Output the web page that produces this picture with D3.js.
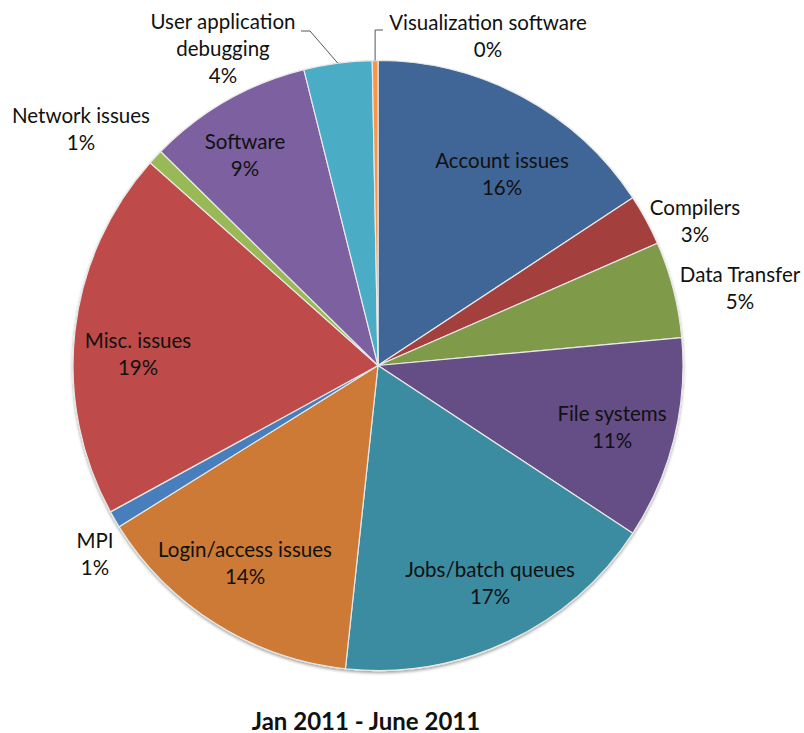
<!DOCTYPE html>
<html>
<head>
<meta charset="utf-8">
<script src="https://cdn.jsdelivr.net/npm/d3@7"></script>
<style>
  html, body { margin: 0; padding: 0; background: #fff; }
  svg { display: block; }
  text { font-family: Lato, "Open Sans", sans-serif; fill: #111; }
</style>
</head>
<body>
<svg id="chart" width="804" height="733"></svg>
<script>
// ---- data ----
const categories = ["Account issues", "Compilers", "Data Transfer", "File systems",
  "Jobs/batch queues", "Login/access issues", "MPI", "Misc. issues",
  "Network issues", "Software", "User application debugging", "Visualization software"];
const values = [15.7, 2.7, 5.1, 10.7, 17.4, 14.4, 0.9, 19.5, 0.8, 8.7, 3.6, 0.3];
const percentLabels = ["16%", "3%", "5%", "11%", "17%", "14%", "1%", "19%", "1%", "9%", "4%", "0%"];
const colors = ["#3F6698", "#A33F3D", "#7F9A4A", "#654E85", "#3A8BA1", "#CC7A36",
  "#4A7EBD", "#BE4B48", "#98B954", "#7D60A0", "#4BACC6", "#F79646"];
const title = "Jan 2011 - June 2011";

// ---- layout ----
const svg = d3.select("#chart");
const cx = 378, cy = 365.5, R = 305;
const g = svg.append("g").attr("transform", `translate(${cx},${cy})`);

const data = categories.map((c, i) => ({ name: c, value: values[i], pct: percentLabels[i], color: colors[i] }));
const pie = d3.pie().value(d => d.value).sort(null).startAngle(0).endAngle(2 * Math.PI);
const arcs = pie(data);
const arc = d3.arc().innerRadius(0).outerRadius(R);

// soft shadow
const defs = svg.append("defs");
const f = defs.append("filter").attr("id", "sh").attr("x", "-10%").attr("y", "-10%").attr("width", "120%").attr("height", "120%");
f.append("feGaussianBlur").attr("in", "SourceAlpha").attr("stdDeviation", 1.5);
f.append("feOffset").attr("dx", 0).attr("dy", 1.5).attr("result", "ob");
f.append("feComponentTransfer").append("feFuncA").attr("type", "linear").attr("slope", 0.35);
const fm = f.append("feMerge"); fm.append("feMergeNode"); fm.append("feMergeNode").attr("in", "SourceGraphic");

g.append("g").attr("filter", "url(#sh)")
  .selectAll("path").data(arcs).join("path")
  .attr("d", arc)
  .attr("fill", d => d.data.color)
  .attr("stroke", "#e8e8e8")
  .attr("stroke-width", 1.2)
  .attr("stroke-linejoin", "round");

const fs = 20.5, lh = 27;
function mid(d) { return (d.startAngle + d.endAngle) / 2; }
function polar(a, r) { return [Math.sin(a) * r, -Math.cos(a) * r]; }

// label block centres (page coordinates) as placed by the original chart's label layout
const labelLayout = {
  "Account issues": { lines: ["Account issues"], x: 502, y: 173 },
  "Compilers": { lines: ["Compilers"], x: 695, y: 220 },
  "Data Transfer": { lines: ["Data Transfer"], x: 740, y: 287 },
  "File systems": { lines: ["File systems"], x: 612, y: 426 },
  "Jobs/batch queues": { lines: ["Jobs/batch queues"], x: 490, y: 582 },
  "Login/access issues": { lines: ["Login/access issues"], x: 245, y: 562 },
  "MPI": { lines: ["MPI"], x: 95, y: 553 },
  "Misc. issues": { lines: ["Misc. issues"], x: 138, y: 353 },
  "Network issues": { lines: ["Network issues"], x: 81, y: 128 },
  "Software": { lines: ["Software"], x: 245, y: 154 },
  "User application debugging": { lines: ["User application", "debugging"], x: 223, y: 48 },
  "Visualization software": { lines: ["Visualization software"], x: 488, y: 35 }
};

const labels = svg.append("g");
arcs.forEach(d => {
  const p = labelLayout[d.data.name];
  const lines = p.lines.concat([d.data.pct]);
  const y0 = p.y - (lines.length - 1) * lh / 2;
  const t = labels.append("text")
    .attr("text-anchor", "middle")
    .attr("font-size", fs)
    .attr("dominant-baseline", "central");
  lines.forEach((ln, i) => {
    t.append("tspan").attr("x", p.x).attr("y", y0 + i * lh).text(ln);
  });
});

// leader lines
const leaderG = g.append("g").attr("fill", "none").attr("stroke", "#555").attr("stroke-width", 1);
arcs.forEach(d => {
  if (d.data.name === "User application debugging") {
    const p = polar(mid(d), R);
    leaderG.append("polyline").attr("points", [p, [310 - cx, 31 - cy], [301 - cx, 31 - cy]].map(q => q.join(",")).join(" "));
  }
  if (d.data.name === "Visualization software") {
    const p = polar(mid(d), R);
    leaderG.append("polyline").attr("points", [p, [p[0], 30 - cy], [383 - cx, 30 - cy]].map(q => q.join(",")).join(" "));
  }
});

// title
svg.append("text")
  .attr("x", 366).attr("y", 720)
  .attr("text-anchor", "middle")
  .attr("dominant-baseline", "central")
  .attr("font-size", 24).attr("font-weight", "bold")
  .text(title);
</script>
</body>
</html>
